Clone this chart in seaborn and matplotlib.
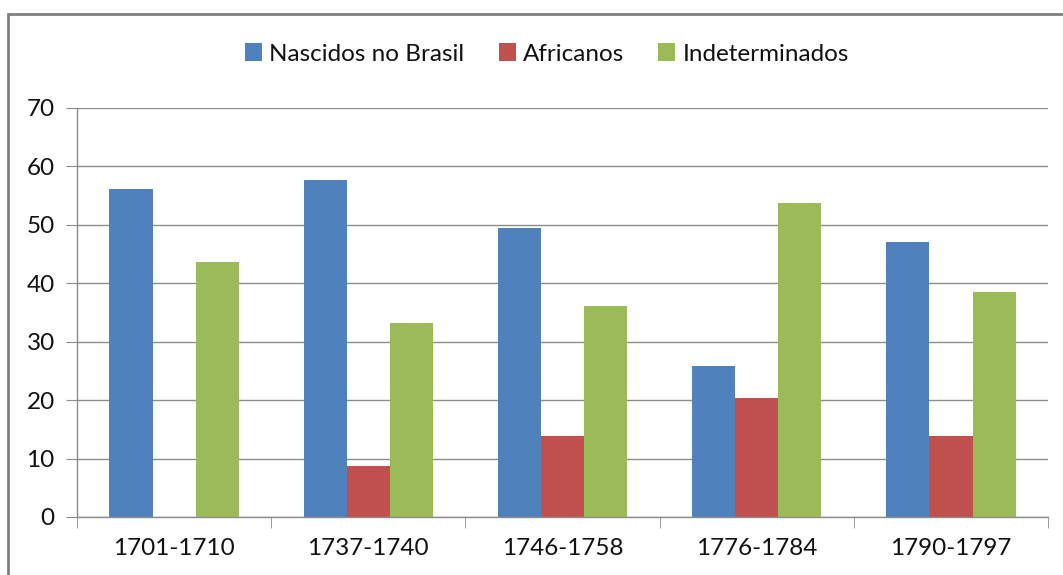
import pandas as pd
import numpy as np
import matplotlib.pyplot as plt
import seaborn as sns
from matplotlib.patches import Rectangle

# Values
periods = ['1701-1710', '1737-1740', '1746-1758', '1776-1784', '1790-1797']
nascidos = [56.1, 57.7, 49.5, 25.8, 47.1]
africanos = [0.0, 8.7, 13.9, 20.4, 13.9]
indeterminados = [43.6, 33.2, 36.1, 53.7, 38.5]
series_names = ['Nascidos no Brasil', 'Africanos', 'Indeterminados']
colors = ['#4F81BD', '#C0504D', '#9BBB59']

df = pd.DataFrame({
    'periodo': periods * 3,
    'grupo': [series_names[0]] * 5 + [series_names[1]] * 5 + [series_names[2]] * 5,
    'valor': nascidos + africanos + indeterminados,
})

sns.set_style('white')
plt.rcParams['font.family'] = ['Lato', 'DejaVu Sans']

fig = plt.figure(figsize=(10.63, 5.75), dpi=100)
ax = fig.add_axes([0.0724, 0.1009, 0.9136, 0.7113])

sns.barplot(data=df, x='periodo', y='valor', hue='grupo', order=periods,
            hue_order=series_names, palette=colors, width=0.665, gap=0,
            saturation=1, ax=ax, errorbar=None, legend=True, linewidth=0)

ax.set_ylim(0, 70)
ax.set_xlim(-0.5, len(periods) - 0.5)
ax.set_yticks(range(0, 71, 10))
ax.yaxis.grid(True, color='#8c8c8c', linewidth=1)
ax.set_axisbelow(True)
ax.set_xlabel('')
ax.set_ylabel('')

for side in ['top', 'right']:
    ax.spines[side].set_visible(False)
for side in ['left', 'bottom']:
    ax.spines[side].set_color('#8c8c8c')
    ax.spines[side].set_linewidth(1)

# ticks: y ticks outward on left, x ticks at group boundaries
ax.tick_params(axis='y', which='major', length=8, color='#8c8c8c', labelsize=17.5,
               labelcolor='#111111', pad=8, left=True)
ax.tick_params(axis='x', which='major', length=0, labelsize=17.5, labelcolor='#111111', pad=15)
ax.set_xticks(np.arange(-0.5, len(periods)), minor=True)
ax.tick_params(axis='x', which='minor', length=8, color='#8c8c8c', bottom=True)

handles, labels = ax.get_legend_handles_labels()
ax.legend(handles, labels, loc='center', bbox_to_anchor=(547 / 1063, 1 - 54 / 575),
          bbox_transform=fig.transFigure, ncol=3, frameon=False, fontsize=17.5,
          handlelength=0.7, handleheight=0.7, handletextpad=0.3, columnspacing=1.4,
          labelcolor='#111111')

# outer chart border (partially cut off at right and bottom)
fig.patches.append(Rectangle((8 / 1063, -0.1), 1.1, 1 - 14 / 575 + 0.1,
                             transform=fig.transFigure, fill=False,
                             edgecolor='#808080', linewidth=2))

fig.savefig('out.png', dpi=100)
